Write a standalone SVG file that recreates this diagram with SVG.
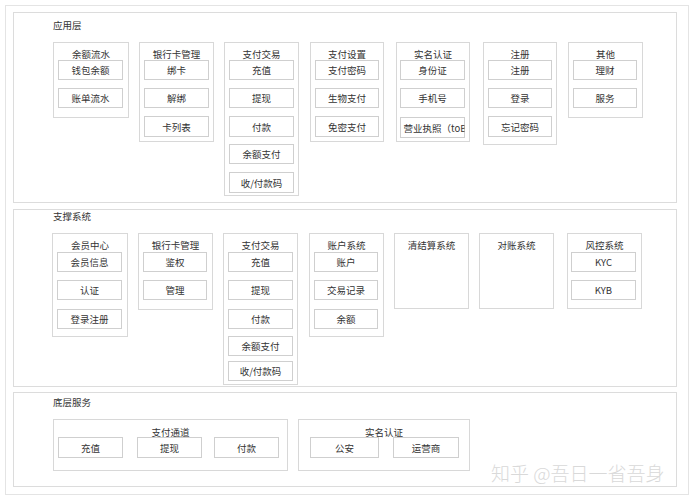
<svg xmlns="http://www.w3.org/2000/svg" width="696" height="500" viewBox="0 0 696 500">
<style>
text{font-family:"Noto Sans CJK SC","Noto Sans",sans-serif;font-size:9.5px;fill:#333;text-anchor:middle;dominant-baseline:central}
.lbl{text-anchor:start}
.frame{fill:#fff;stroke:#e4e4e4;stroke-width:1}
.sec{fill:#fff;stroke:#dcdcdc;stroke-width:1}
.grp{fill:#fff;stroke:#d8d8d8;stroke-width:1}
.it{fill:#fff;stroke:#cfcfcf;stroke-width:1}
.wm{font-size:19px;fill:#d9d9d9;text-anchor:start;font-weight:300}
</style>
<defs>
<clipPath id="clipTob"><rect x="400.5" y="117.5" width="64" height="20"/></clipPath>
</defs>
<rect x="0" y="0" width="696" height="500" fill="#fff"/>
<rect class="frame" x="5.5" y="5.5" width="683" height="489"/>
<g id="layer-app">
<rect class="sec" x="13.5" y="12.5" width="663" height="190"/>
<text class="lbl" x="53" y="25">应用层</text>
</g>
<g id="layer-support">
<rect class="sec" x="13.5" y="209.5" width="663" height="177"/>
<text class="lbl" x="53" y="216">支撑系统</text>
</g>
<g id="layer-base">
<rect class="sec" x="13.5" y="392.5" width="663" height="94"/>
<text class="lbl" x="53" y="402">底层服务</text>
</g>

<g id="app-balance">
<rect class="grp" x="53.5" y="42.5" width="75" height="75"/>
<text x="91" y="54">余额流水</text>
<rect class="it" x="58.5" y="60.5" width="64" height="19"/><text x="90.5" y="70">钱包余额</text>
<rect class="it" x="58.5" y="88.5" width="64" height="19"/><text x="90.5" y="98">账单流水</text>
</g>
<g id="app-bankcard">
<rect class="grp" x="139.5" y="42.5" width="74" height="99"/>
<text x="176.5" y="54">银行卡管理</text>
<rect class="it" x="144.5" y="60.5" width="64" height="19"/><text x="176.5" y="70">绑卡</text>
<rect class="it" x="144.5" y="88.5" width="64" height="19"/><text x="176.5" y="98">解绑</text>
<rect class="it" x="144.5" y="116.5" width="64" height="20"/><text x="176.5" y="126.5">卡列表</text>
</g>
<g id="app-trade">
<rect class="grp" x="224.5" y="42.5" width="74" height="153"/>
<text x="261.5" y="54">支付交易</text>
<rect class="it" x="229.5" y="60.5" width="64" height="19"/><text x="261.5" y="70">充值</text>
<rect class="it" x="229.5" y="88.5" width="64" height="19"/><text x="261.5" y="98">提现</text>
<rect class="it" x="229.5" y="116.5" width="64" height="20"/><text x="261.5" y="126.5">付款</text>
<rect class="it" x="229.5" y="144.5" width="64" height="19"/><text x="261.5" y="154">余额支付</text>
<rect class="it" x="229.5" y="172.5" width="64" height="20"/><text x="261.5" y="182.5">收/付款码</text>
</g>
<g id="app-paysetting">
<rect class="grp" x="310.5" y="42.5" width="73" height="99"/>
<text x="347" y="54">支付设置</text>
<rect class="it" x="315.5" y="60.5" width="63" height="19"/><text x="347" y="70">支付密码</text>
<rect class="it" x="315.5" y="88.5" width="63" height="19"/><text x="347" y="98">生物支付</text>
<rect class="it" x="315.5" y="116.5" width="63" height="20"/><text x="347" y="126.5">免密支付</text>
</g>
<g id="app-realname">
<rect class="grp" x="396.5" y="42.5" width="73" height="99"/>
<text x="433" y="54">实名认证</text>
<rect class="it" x="400.5" y="60.5" width="64" height="19"/><text x="432.5" y="70">身份证</text>
<rect class="it" x="400.5" y="88.5" width="64" height="19"/><text x="432.5" y="98">手机号</text>
<rect class="it" x="400.5" y="117.5" width="64" height="20"/>
<text class="lbl" x="403.5" y="127.5" clip-path="url(#clipTob)">营业执照（toB）</text>
</g>
<g id="app-register">
<rect class="grp" x="483.5" y="42.5" width="73" height="102"/>
<text x="520" y="54">注册</text>
<rect class="it" x="488.5" y="60.5" width="63" height="19"/><text x="520" y="70">注册</text>
<rect class="it" x="488.5" y="88.5" width="63" height="19"/><text x="520" y="98">登录</text>
<rect class="it" x="488.5" y="116.5" width="63" height="20"/><text x="520" y="126.5">忘记密码</text>
</g>
<g id="app-other">
<rect class="grp" x="568.5" y="42.5" width="74" height="75"/>
<text x="605.5" y="54">其他</text>
<rect class="it" x="573.5" y="60.5" width="63" height="19"/><text x="605" y="70">理财</text>
<rect class="it" x="573.5" y="88.5" width="63" height="19"/><text x="605" y="98">服务</text>
</g>

<g id="sup-member">
<rect class="grp" x="52.5" y="233.5" width="75" height="103"/>
<text x="90" y="245">会员中心</text>
<rect class="it" x="57.5" y="252.5" width="64" height="19"/><text x="89.5" y="262">会员信息</text>
<rect class="it" x="57.5" y="280.5" width="64" height="19"/><text x="89.5" y="290">认证</text>
<rect class="it" x="57.5" y="309.5" width="64" height="19"/><text x="89.5" y="319">登录注册</text>
</g>
<g id="sup-bankcard">
<rect class="grp" x="138.5" y="233.5" width="74" height="76"/>
<text x="175.5" y="245">银行卡管理</text>
<rect class="it" x="143.5" y="252.5" width="63" height="19"/><text x="175" y="262">鉴权</text>
<rect class="it" x="143.5" y="280.5" width="63" height="19"/><text x="175" y="290">管理</text>
</g>
<g id="sup-trade">
<rect class="grp" x="223.5" y="233.5" width="74" height="151"/>
<text x="260.5" y="245">支付交易</text>
<rect class="it" x="228.5" y="252.5" width="64" height="19"/><text x="260.5" y="262">充值</text>
<rect class="it" x="228.5" y="280.5" width="64" height="19"/><text x="260.5" y="290">提现</text>
<rect class="it" x="228.5" y="309.5" width="64" height="19"/><text x="260.5" y="319">付款</text>
<rect class="it" x="228.5" y="336.5" width="64" height="19"/><text x="260.5" y="346">余额支付</text>
<rect class="it" x="228.5" y="361.5" width="64" height="19"/><text x="260.5" y="371">收/付款码</text>
</g>
<g id="sup-account">
<rect class="grp" x="309.5" y="233.5" width="74" height="103"/>
<text x="346.5" y="245">账户系统</text>
<rect class="it" x="314.5" y="252.5" width="63" height="19"/><text x="346" y="262">账户</text>
<rect class="it" x="314.5" y="280.5" width="63" height="19"/><text x="346" y="290">交易记录</text>
<rect class="it" x="314.5" y="309.5" width="63" height="19"/><text x="346" y="319">余额</text>
</g>
<g id="sup-settle">
<rect class="grp" x="394.5" y="233.5" width="74" height="75"/>
<text x="431.5" y="245">清结算系统</text>
</g>
<g id="sup-recon">
<rect class="grp" x="479.5" y="233.5" width="74" height="75"/>
<text x="516.5" y="245">对账系统</text>
</g>
<g id="sup-risk">
<rect class="grp" x="567.5" y="233.5" width="74" height="75"/>
<text x="604.5" y="245">风控系统</text>
<rect class="it" x="571.5" y="252.5" width="64" height="19"/><text x="603.5" y="262">KYC</text>
<rect class="it" x="571.5" y="280.5" width="64" height="19"/><text x="603.5" y="290">KYB</text>
</g>

<g id="base-channel">
<rect class="grp" x="53.5" y="419.5" width="234" height="51"/>
<text x="170.5" y="432">支付通道</text>
<rect class="it" x="58.5" y="437.5" width="64" height="20"/><text x="90.5" y="447.5">充值</text>
<rect class="it" x="137.5" y="437.5" width="64" height="20"/><text x="169.5" y="447.5">提现</text>
<rect class="it" x="214.5" y="437.5" width="64" height="20"/><text x="246.5" y="447.5">付款</text>
</g>
<g id="base-realname">
<rect class="grp" x="298.5" y="419.5" width="171" height="51"/>
<text x="384" y="432">实名认证</text>
<rect class="it" x="310.5" y="437.5" width="68" height="20"/><text x="344.5" y="447.5">公安</text>
<rect class="it" x="393.5" y="437.5" width="65" height="20"/><text x="426" y="447.5">运营商</text>
</g>
<g id="connectors"></g>
<text class="wm" x="491" y="472">知乎 @吾日一省吾身</text>
</svg>
